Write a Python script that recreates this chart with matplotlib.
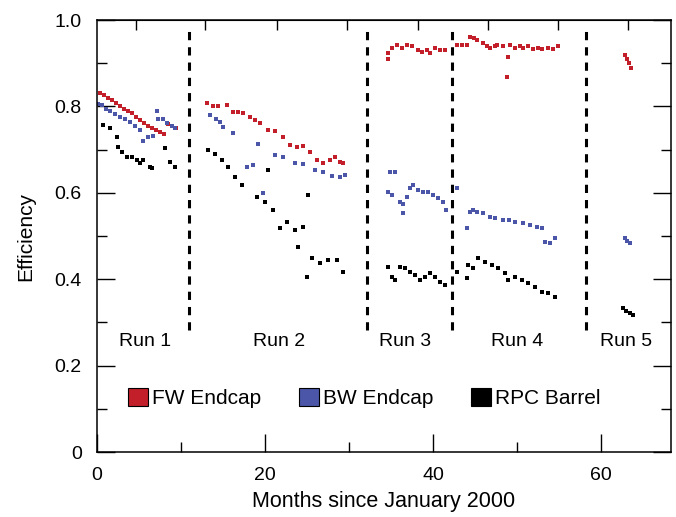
import matplotlib.pyplot as plt
from matplotlib.patches import Patch

plt.rcParams['font.family'] = ['Liberation Sans', 'DejaVu Sans']
plt.rcParams['font.size'] = 14

# months since Jan 2000 / efficiency
fw_x = [0.36, 0.83, 1.31, 1.79, 2.26, 2.74, 3.21, 3.69, 4.17, 4.64, 5.12, 5.6, 6.07, 6.55, 7.02, 7.5, 7.98, 8.45, 8.93, 9.4,
        13.1, 13.8, 14.4, 15.48, 16.19, 16.8, 17.38, 18.21, 18.8, 19.4, 20.36, 21.19, 22.14, 22.98, 23.81, 24.52, 25.36, 26.19, 26.9, 27.74, 28.33, 28.9, 29.29,
        34.64, 34.64, 35.12, 35.71, 36.3, 36.9, 37.5, 38.21, 38.69, 39.3, 39.64, 40.24, 40.83, 41.43,
        42.86, 43.45, 44.05, 44.4, 44.9, 45.24, 45.95, 46.4, 46.79, 47.3, 47.62, 48.33, 48.93, 48.81, 49.17, 49.76, 50.3, 50.71, 51.3, 51.9, 52.5, 53.0, 53.7, 54.3, 54.88,
        62.86, 63.1, 63.3, 63.6]
fw_y = [0.83, 0.826, 0.82, 0.815, 0.808, 0.80, 0.795, 0.79, 0.785, 0.775, 0.768, 0.762, 0.755, 0.75, 0.745, 0.74, 0.735, 0.76, 0.755, 0.75,
        0.808, 0.801, 0.80, 0.803, 0.787, 0.786, 0.785, 0.775, 0.768, 0.761, 0.745, 0.743, 0.729, 0.711, 0.706, 0.708, 0.694, 0.676, 0.669, 0.676, 0.683, 0.672, 0.668,
        0.923, 0.91, 0.935, 0.942, 0.935, 0.942, 0.939, 0.93, 0.926, 0.93, 0.923, 0.935, 0.93, 0.93,
        0.942, 0.942, 0.942, 0.961, 0.958, 0.954, 0.947, 0.94, 0.935, 0.94, 0.942, 0.939, 0.914, 0.868, 0.942, 0.935, 0.939, 0.935, 0.939, 0.933, 0.936, 0.932, 0.935, 0.933, 0.939,
        0.92, 0.91, 0.90, 0.89]

bw_x = [0.1, 0.6, 1.1, 1.55, 2.14, 2.74, 3.33, 3.93, 4.5, 5.12, 5.48, 6.07, 6.67, 7.14, 7.3, 7.86, 8.33, 8.93, 9.29,
        13.45, 14.1, 14.64, 15.0, 16.19, 17.86, 18.57, 19.17, 19.76, 21.19, 22.14, 23.57, 24.52, 25.95, 26.9, 27.98, 28.93, 29.52,
        34.64, 34.88, 35.12, 35.48, 36.07, 36.43, 36.43, 36.9, 37.26, 37.62, 38.21, 38.81, 39.4, 40.0, 40.6, 41.19, 41.55,
        42.86, 44.05, 44.4, 44.76, 45.24, 45.95, 46.79, 47.4, 48.33, 49.0, 49.76, 50.71, 51.55, 52.38, 52.98, 53.33, 53.93, 54.52,
        62.86, 63.1, 63.4]
bw_y = [0.805, 0.803, 0.795, 0.79, 0.782, 0.775, 0.77, 0.765, 0.755, 0.745, 0.72, 0.73, 0.732, 0.79, 0.77, 0.77, 0.762, 0.755, 0.75,
        0.78, 0.772, 0.764, 0.752, 0.738, 0.66, 0.664, 0.713, 0.60, 0.688, 0.683, 0.669, 0.667, 0.653, 0.648, 0.639, 0.637, 0.641,
        0.602, 0.648, 0.595, 0.648, 0.579, 0.575, 0.553, 0.59, 0.611, 0.618, 0.606, 0.602, 0.602, 0.595, 0.588, 0.579, 0.56,
        0.611, 0.519, 0.556, 0.56, 0.556, 0.553, 0.544, 0.542, 0.537, 0.536, 0.532, 0.53, 0.525, 0.521, 0.519, 0.486, 0.484, 0.495,
        0.495, 0.488, 0.484]

rpc_x = [0.71, 1.55, 2.38, 2.5, 2.98, 3.57, 4.17, 4.76, 5.12, 5.48, 6.31, 6.55, 8.1, 8.69, 9.29,
         13.2, 14.05, 14.88, 15.6, 16.43, 17.26, 19.05, 20.0, 20.36, 20.95, 21.79, 22.62, 23.57, 23.93, 24.52, 25.0, 25.12, 25.6, 26.55, 27.5, 28.57, 29.29,
         34.64, 35.12, 35.48, 36.07, 36.67, 37.26, 37.86, 38.45, 39.05, 39.64, 40.24, 40.83, 41.43,
         42.86, 44.05, 44.17, 44.76, 45.36, 46.19, 47.02, 47.74, 48.57, 48.93, 49.76, 50.6, 51.31, 52.14, 52.98, 53.69, 54.52,
         62.62, 63.0, 63.4, 63.81]
rpc_y = [0.757, 0.75, 0.729, 0.706, 0.694, 0.683, 0.683, 0.676, 0.668, 0.676, 0.66, 0.657, 0.704, 0.671, 0.66,
         0.699, 0.69, 0.676, 0.66, 0.637, 0.618, 0.59, 0.579, 0.653, 0.56, 0.519, 0.532, 0.514, 0.475, 0.521, 0.405, 0.595, 0.449, 0.437, 0.444, 0.444, 0.417,
         0.428, 0.405, 0.398, 0.428, 0.426, 0.417, 0.41, 0.398, 0.405, 0.414, 0.405, 0.394, 0.387,
         0.417, 0.403, 0.433, 0.426, 0.449, 0.44, 0.433, 0.426, 0.414, 0.398, 0.405, 0.398, 0.391, 0.382, 0.37, 0.368, 0.359,
         0.333, 0.327, 0.322, 0.317]

run_bounds = [10.95, 32.14, 42.26, 58.21]
run_names = ['Run 1', 'Run 2', 'Run 3', 'Run 4', 'Run 5']
run_centers = [5.7, 21.7, 36.7, 50.0, 62.9]
top_ticks = [4.64, 12.86, 21.43, 29.76, 38.21, 46.55, 54.88, 63.21]

red = '#c21f2a'
blue = '#4b56a8'

fig = plt.figure(figsize=(6.76, 5.17), dpi=100)
ax = fig.add_axes([0.1435, 0.1257, 0.8491, 0.8356])

ax.plot(fw_x, fw_y, ls='none', marker='s', ms=3, mew=0, color=red)
ax.plot(bw_x, bw_y, ls='none', marker='s', ms=3, mew=0, color=blue)
ax.plot(rpc_x, rpc_y, ls='none', marker='s', ms=3.2, mew=0, color='black')

for b in run_bounds:
    ax.axvline(b, ymin=0.282, ymax=0.985, color='black', ls=(0, (2.7, 2.3)), lw=2.2)
for c, n in zip(run_centers, run_names):
    ax.text(c, 0.255, n, ha='center', va='center', fontsize=14)

ax.set_xlim(0, 68.3)
ax.set_ylim(0, 1.0)
ax.set_xticks([0, 20, 40, 60])
ax.set_xticks([10, 30, 50], minor=True)
ax.set_yticks([0, 0.2, 0.4, 0.6, 0.8, 1.0])
ax.set_yticklabels(['0', '0.2', '0.4', '0.6', '0.8', '1.0'])
ax.set_yticks([0.1, 0.3, 0.5, 0.7, 0.9], minor=True)
ax.tick_params(which='major', direction='in', length=13, width=1, right=True, labelsize=14, pad=11)
ax.tick_params(which='minor', direction='in', length=7, width=1, right=True)

top = ax.secondary_xaxis('top')
top.set_xticks(top_ticks)
top.set_xticklabels([])
top.tick_params(direction='in', length=7, width=1)

for s in ax.spines.values():
    s.set_linewidth(1.1)

ax.set_xlabel('Months since January 2000', fontsize=15.5, labelpad=5)
ax.set_ylabel('Efficiency', fontsize=15, labelpad=14)

handles = [Patch(facecolor=red, edgecolor='black', lw=0.8, label='FW Endcap'),
           Patch(facecolor=blue, edgecolor='black', lw=0.8, label='BW Endcap'),
           Patch(facecolor='black', edgecolor='black', lw=0.8, label='RPC Barrel')]
ax.legend(handles=handles, ncol=3, loc='center left', bbox_to_anchor=(0.054, 0.125),
          frameon=False, handlelength=0.96, handleheight=0.96, handletextpad=0.2,
          columnspacing=1.8, fontsize=15, borderaxespad=0, borderpad=0)

fig.savefig('out.png', dpi=100)
